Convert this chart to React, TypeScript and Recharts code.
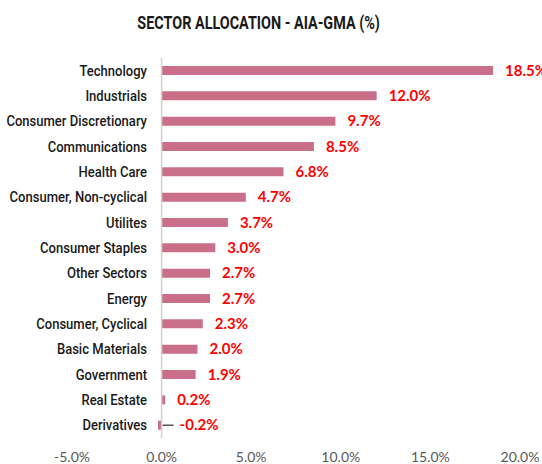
import React from "react";
import { BarChart, Bar, XAxis, YAxis, ReferenceLine, LabelList } from "recharts";

const categories = [
  "Technology",
  "Industrials",
  "Consumer Discretionary",
  "Communications",
  "Health Care",
  "Consumer, Non-cyclical",
  "Utilites",
  "Consumer Staples",
  "Other Sectors",
  "Energy",
  "Consumer, Cyclical",
  "Basic Materials",
  "Government",
  "Real Estate",
  "Derivatives",
];
const weights = [18.5, 12.0, 9.7, 8.5, 6.8, 4.7, 3.7, 3.0, 2.7, 2.7, 2.3, 2.0, 1.9, 0.2, -0.2];
const xTicks = [-5, 0, 5, 10, 15, 20];

const data = categories.map((name, i) => ({ name, value: weights[i] }));

const BAR = "#C96F8A";
const COND_FONT = "Roboto, 'Liberation Sans', sans-serif";

const CatTick = (props: any) => {
  const { x, y, payload } = props;
  return (
    <g transform={`translate(${x + 83},${y + 5}) scale(0.87,1)`}>
      <text x={0} y={0} textAnchor="end" fontFamily={COND_FONT} fontWeight={500} fontSize={15} fill="#1a1a1a">
        {payload.value}
      </text>
    </g>
  );
};

const ValueLabel = (props: any) => {
  const { x, y, width, height, value } = props;
  const cy = y + height / 2;
  if (value < 0) {
    const start = Math.max(x, x + width);
    return (
      <g>
        <line x1={start + 1} y1={cy} x2={start + 12} y2={cy} stroke="#000" strokeWidth={1} />
        <text x={start + 18} y={cy} dy={5} fill="#FF0000" fontWeight="bold" fontSize={15} fontFamily="Lato, sans-serif">
          {value.toFixed(1)}%
        </text>
      </g>
    );
  }
  return (
    <text x={x + width + 12} y={cy} dy={5} fill="#FF0000" fontWeight="bold" fontSize={15} fontFamily="Lato, sans-serif">
      {value.toFixed(1)}%
    </text>
  );
};

export default function App() {
  return (
    <div style={{ position: "absolute", left: 0, top: 0, width: 542, height: 464, background: "#fff" }}>
      <div
        style={{
          position: "absolute",
          left: 0,
          width: 518,
          top: 12,
          textAlign: "center",
          lineHeight: "22px",
        }}
      >
        <span
          style={{
            display: "inline-block",
            transform: "scaleX(0.8)",
            fontFamily: COND_FONT,
            fontWeight: "bold",
            fontSize: 18,
            color: "#1a1a1a",
          }}
        >
          SECTOR ALLOCATION - AIA-GMA (%)
        </span>
      </div>
      <BarChart
        width={542}
        height={464}
        data={data}
        layout="vertical"
        margin={{ top: 58, right: 22, bottom: 0, left: 0 }}
        barCategoryGap={8}
      >
        <XAxis
          type="number"
          domain={[-5, 20]}
          ticks={xTicks}
          tickFormatter={(v: number) => `${v.toFixed(1)}%`}
          axisLine={false}
          tickLine={false}
          height={26}
          tick={{ fill: "#595959", fontSize: 14, fontFamily: "Lato, sans-serif" }}
          tickMargin={8}
          interval={0}
        />
        <YAxis
          type="category"
          dataKey="name"
          width={72}
          axisLine={false}
          tickLine={false}
          tick={<CatTick />}
          interval={0}
        />
        <ReferenceLine x={0} stroke="#D0D0D0" strokeWidth={1.5} />
        <Bar dataKey="value" fill={BAR} barSize={9} isAnimationActive={false}>
          <LabelList dataKey="value" content={<ValueLabel />} />
        </Bar>
      </BarChart>
    </div>
  );
}
